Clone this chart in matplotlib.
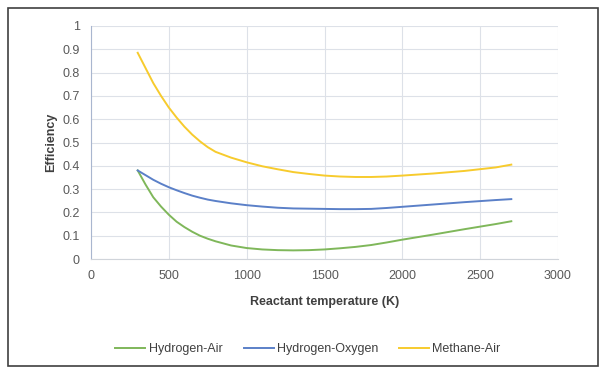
import numpy as np
import matplotlib as mpl
import matplotlib.pyplot as plt

mpl.rc("font", family=["Liberation Sans", "DejaVu Sans"])

# values
temp = [300, 350, 400, 450, 500, 550, 600, 650, 700, 750, 800, 900, 1000,
        1100, 1200, 1300, 1400, 1500, 1600, 1700, 1800, 1900, 2000, 2200,
        2400, 2600, 2700]
h2_air = [0.38, 0.32, 0.265, 0.225, 0.19, 0.16, 0.137, 0.117, 0.10, 0.087,
          0.076, 0.058, 0.047, 0.041, 0.038, 0.037, 0.038, 0.041, 0.046,
          0.052, 0.06, 0.071, 0.083, 0.105, 0.128, 0.15, 0.162]
h2_o2 = [0.38, 0.36, 0.34, 0.323, 0.308, 0.295, 0.283, 0.272, 0.263, 0.255,
         0.249, 0.239, 0.231, 0.225, 0.22, 0.217, 0.216, 0.215, 0.214,
         0.214, 0.215, 0.219, 0.224, 0.234, 0.244, 0.253, 0.257]
ch4_air = [0.885, 0.82, 0.755, 0.70, 0.65, 0.607, 0.568, 0.534, 0.505,
           0.48, 0.46, 0.435, 0.415, 0.398, 0.385, 0.373, 0.365, 0.358,
           0.354, 0.352, 0.352, 0.354, 0.358, 0.367, 0.378, 0.393, 0.405]

series = [("Hydrogen-Air", h2_air, "#7fb75a"),
          ("Hydrogen-Oxygen", h2_o2, "#5b80c8"),
          ("Methane-Air", ch4_air, "#f7cb2d")]

fig = plt.figure(figsize=(6.02, 3.77), dpi=100)
fig.patches.append(mpl.patches.Rectangle(
    (8/602, 11/377), 590/602, 358/377, transform=fig.transFigure,
    fill=False, ec="#404040", lw=1.2))

ax = fig.add_axes([91/602, 118/377, 467/602, 233/377])
for name, vals, col in series:
    ax.plot(temp, vals, color=col, lw=1.4, label=name)

ax.set_xlim(0, 3000)
ax.set_ylim(0, 1)
ax.set_xticks(np.arange(0, 3001, 500))
ax.set_yticks(np.arange(0, 1.01, 0.1))
ax.set_yticklabels(["0"] + ["%.1f" % v for v in np.arange(0.1, 0.95, 0.1)] + ["1"])
ax.grid(True, color="#dde1e8", lw=0.8)
ax.set_axisbelow(True)
for s in ["top", "right"]:
    ax.spines[s].set_visible(False)
ax.spines["left"].set_color("#a9b6cf")
ax.spines["bottom"].set_color("#d0d4da")
ax.tick_params(length=0, labelsize=9, colors="#595959", pad=8)

ax.set_xlabel("Reactant temperature (K)", fontsize=9, fontweight="bold",
              color="#404040", labelpad=10)
ax.set_ylabel("Efficiency", fontsize=9, fontweight="bold", color="#404040",
              labelpad=4)

fig.legend(loc="center", bbox_to_anchor=(308/602, 28/377), ncol=3,
           frameon=False, fontsize=9, handlelength=2.4, handletextpad=0.25,
           columnspacing=1.7, labelcolor="#404040")

plt.savefig("out.png", dpi=100)
